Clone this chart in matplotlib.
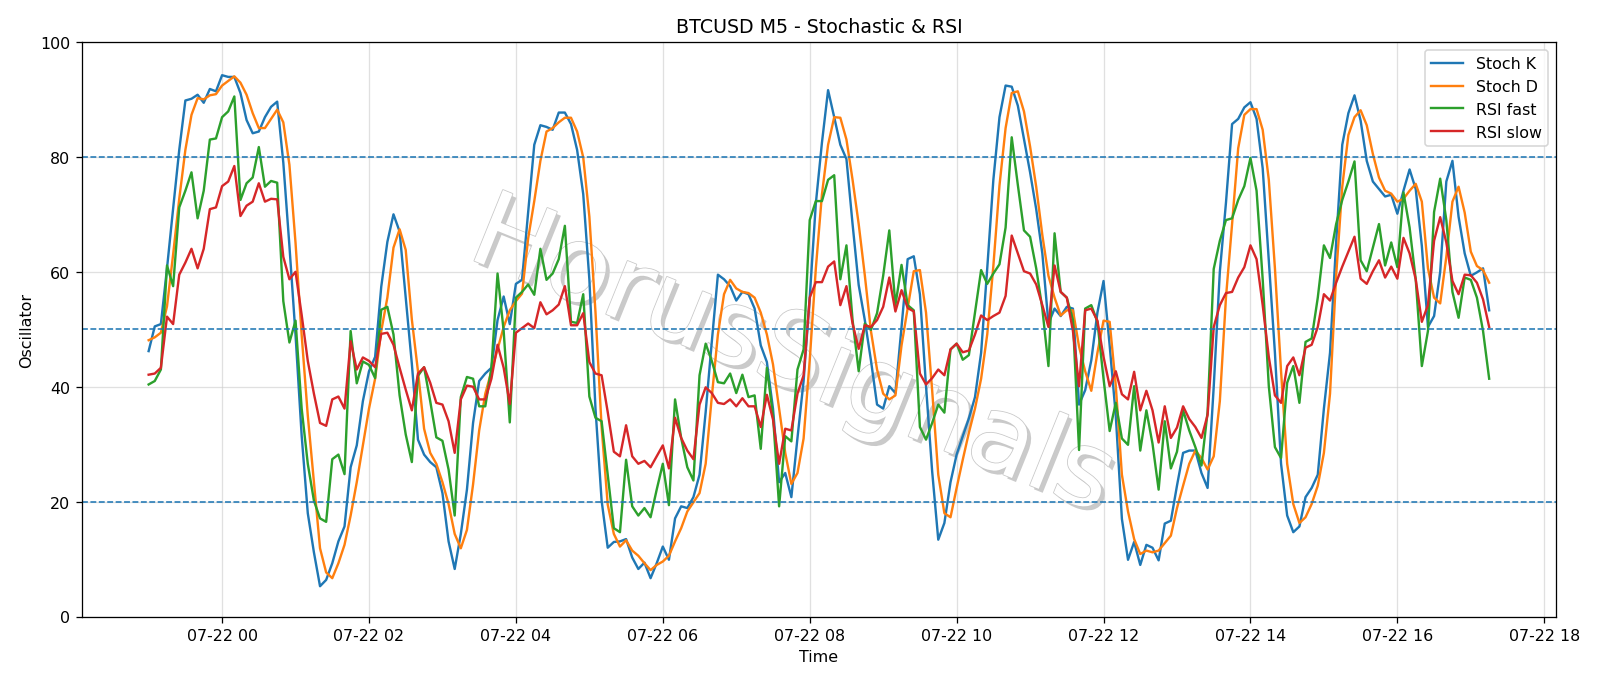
import numpy as np
import pandas as pd
import matplotlib
matplotlib.use("Agg")
import matplotlib.pyplot as plt
import matplotlib.dates as mdates
import matplotlib.patheffects as pe

# BTCUSD M5 bars, 07-21 23:00 -> 07-22 17:15
start_time = "2025-07-21 23:00"
n_bars = 220

stoch_k = [
    46.2, 50.5, 50.9, 60.6, 71.0, 81.2, 89.8, 90.1, 90.8, 89.4, 91.8, 91.4, 94.2, 93.9, 93.9, 91.1, 86.4, 84.1, 84.4, 86.9,
    88.7, 89.6, 79.0, 64.5, 49.0, 31.5, 18.0, 11.2, 5.3, 6.4, 9.3, 13.1, 15.7, 26.0, 29.8, 37.5, 42.7, 45.2, 57.4, 65.2,
    70.0, 67.0, 55.5, 44.0, 30.8, 28.2, 26.9, 26.0, 21.5, 13.1, 8.3, 14.4, 22.1, 33.7, 41.0, 42.3, 43.3, 51.6, 55.7, 50.9,
    57.9, 58.6, 70.3, 82.1, 85.5, 85.2, 84.7, 87.7, 87.7, 85.7, 81.2, 73.5, 58.7, 36.2, 20.2, 12.0, 13.0, 13.1, 13.5, 10.3,
    8.3, 9.4, 6.7, 9.3, 12.2, 9.9, 17.1, 19.2, 18.9, 20.8, 24.7, 35.6, 47.8, 59.5, 58.7, 57.5, 55.0, 56.5, 56.1, 53.6,
    47.2, 44.3, 36.2, 23.4, 25.0, 20.8, 31.1, 41.0, 55.5, 71.9, 82.5, 91.6, 86.9, 82.1, 79.6, 68.3, 57.7, 51.6, 44.6, 36.9,
    36.2, 40.1, 38.9, 50.4, 62.2, 62.7, 56.1, 40.1, 25.3, 13.4, 16.3, 23.4, 28.2, 31.4, 34.5, 38.2, 45.9, 60.6, 76.0, 86.9,
    92.4, 92.2, 88.9, 83.1, 77.3, 70.9, 63.2, 51.0, 53.6, 52.3, 53.9, 53.6, 36.9, 39.4, 44.6, 52.9, 58.4, 47.2, 35.0, 17.0,
    9.9, 13.0, 9.0, 12.5, 12.0, 9.8, 16.2, 16.7, 22.8, 28.5, 28.9, 28.9, 25.0, 22.4, 40.0, 60.0, 72.0, 85.7, 86.6, 88.6,
    89.5, 86.6, 78.0, 61.9, 45.9, 26.6, 17.6, 14.7, 15.7, 20.8, 22.4, 24.7, 36.2, 45.9, 65.1, 82.1, 87.6, 90.7, 86.3, 79.3,
    75.7, 74.4, 73.1, 73.4, 70.1, 74.1, 77.8, 74.4, 64.5, 50.4, 52.3, 60.0, 75.7, 79.3, 69.6, 63.2, 59.3, 59.9, 60.6, 53.3,
]

stoch_d = [
    48.1, 48.6, 49.4, 54.0, 63.0, 72.7, 81.2, 87.3, 90.2, 90.0, 90.7, 90.9, 92.4, 93.2, 94.0, 92.9, 90.8, 87.6, 85.0, 85.0,
    86.6, 88.2, 86.0, 78.6, 65.0, 49.0, 35.0, 23.4, 11.9, 7.7, 6.7, 9.3, 12.5, 17.6, 23.4, 29.8, 36.2, 41.4, 49.7, 55.5,
    64.2, 67.4, 63.8, 51.7, 42.7, 32.7, 28.5, 26.6, 23.4, 19.6, 14.4, 11.9, 15.1, 23.0, 32.4, 38.8, 42.7, 46.5, 50.4, 53.3,
    54.9, 56.2, 65.8, 72.3, 79.3, 84.4, 85.0, 86.0, 86.8, 86.8, 84.4, 79.9, 69.6, 53.0, 33.0, 19.5, 14.4, 12.2, 13.3, 11.5,
    10.6, 9.3, 8.1, 9.0, 9.6, 10.6, 13.1, 15.4, 18.3, 19.9, 21.5, 26.6, 38.2, 49.1, 56.1, 58.6, 57.1, 56.5, 56.3, 55.5,
    52.9, 49.1, 43.9, 36.2, 28.5, 23.1, 25.0, 31.0, 44.6, 60.6, 73.5, 82.1, 86.9, 86.8, 83.0, 76.0, 68.3, 59.4, 49.7, 43.0,
    38.8, 37.8, 38.5, 47.2, 53.6, 60.1, 60.3, 52.9, 39.4, 24.7, 18.0, 17.3, 22.4, 27.3, 32.0, 36.2, 41.4, 49.1, 61.0, 75.0,
    85.0, 91.1, 91.4, 87.9, 81.8, 74.8, 66.4, 59.3, 55.5, 52.4, 53.3, 53.3, 47.0, 42.7, 39.3, 45.9, 51.5, 51.3, 40.2, 24.7,
    18.3, 13.5, 10.9, 11.5, 11.2, 11.5, 12.8, 14.1, 18.9, 22.8, 26.6, 28.9, 27.6, 25.6, 27.9, 37.5, 55.5, 68.3, 81.5, 87.3,
    88.3, 88.3, 84.7, 76.0, 60.6, 42.7, 26.6, 19.6, 16.3, 17.3, 19.6, 22.8, 28.5, 38.8, 59.3, 74.8, 83.8, 86.9, 88.1, 85.5,
    80.5, 76.4, 74.1, 73.6, 72.2, 72.7, 74.1, 75.3, 72.2, 60.6, 55.5, 54.5, 62.6, 72.2, 74.8, 70.3, 63.5, 61.0, 60.3, 58.1,
]

rsi_fast = [
    40.4, 41.0, 43.0, 61.1, 57.5, 71.2, 74.1, 77.3, 69.3, 74.1, 83.0, 83.2, 86.9, 87.9, 90.5, 72.5, 75.4, 76.4, 81.7, 74.8,
    75.8, 75.5, 54.9, 47.7, 51.5, 36.2, 26.6, 20.2, 17.1, 16.5, 27.4, 28.2, 24.8, 49.7, 40.6, 44.4, 43.8, 41.5, 53.4, 53.9,
    49.1, 38.5, 31.7, 26.9, 41.9, 43.4, 37.5, 31.2, 30.6, 25.6, 17.6, 38.2, 41.7, 41.4, 36.6, 36.6, 43.3, 59.7, 49.7, 33.8,
    55.5, 56.5, 57.8, 56.0, 64.0, 58.6, 59.7, 62.2, 68.0, 51.3, 51.1, 56.1, 38.3, 34.6, 34.0, 24.7, 15.4, 14.7, 27.3, 19.2,
    17.6, 18.9, 17.3, 22.1, 26.6, 19.4, 37.8, 31.1, 26.0, 23.7, 42.0, 47.5, 44.5, 40.8, 40.6, 42.3, 38.9, 42.1, 38.2, 38.5,
    29.2, 43.3, 35.0, 19.2, 31.4, 30.5, 43.0, 46.5, 69.0, 72.3, 72.3, 76.0, 76.8, 58.7, 64.6, 51.6, 42.7, 51.0, 49.9, 52.8,
    59.3, 67.2, 54.2, 61.2, 54.2, 53.3, 33.0, 30.8, 33.7, 36.9, 35.5, 46.5, 47.5, 44.7, 45.5, 52.9, 60.3, 57.9, 59.7, 61.3,
    67.7, 83.4, 75.1, 67.2, 66.1, 60.6, 53.6, 43.6, 66.7, 56.5, 55.5, 51.6, 29.0, 53.6, 54.2, 51.3, 41.4, 32.3, 37.2, 31.0,
    29.9, 40.1, 28.9, 35.9, 30.1, 22.1, 34.0, 25.8, 28.7, 35.9, 32.4, 29.5, 26.3, 35.6, 60.5, 65.4, 69.0, 69.3, 72.5, 74.9,
    79.8, 74.1, 58.7, 40.1, 29.5, 27.6, 40.7, 43.6, 37.2, 47.8, 48.4, 55.5, 64.6, 62.4, 68.3, 72.5, 75.7, 79.2, 62.0, 60.1,
    64.2, 68.3, 61.1, 65.1, 60.8, 73.8, 67.7, 58.7, 43.6, 49.7, 70.4, 76.2, 69.0, 56.5, 52.0, 59.0, 58.6, 55.5, 49.7, 41.4,
]

rsi_slow = [
    42.1, 42.3, 43.3, 52.2, 50.9, 59.5, 61.6, 64.0, 60.6, 64.0, 70.9, 71.2, 74.9, 75.7, 78.4, 69.7, 71.5, 72.2, 75.4, 72.2,
    72.7, 72.6, 62.6, 58.7, 60.0, 52.5, 44.5, 38.8, 33.7, 33.2, 37.8, 38.3, 36.2, 47.9, 43.0, 45.1, 44.5, 43.4, 49.2, 49.4,
    47.3, 43.3, 39.5, 35.9, 42.3, 43.4, 40.7, 37.2, 36.9, 34.0, 28.5, 37.8, 40.2, 40.0, 37.8, 37.8, 41.4, 47.3, 43.3, 37.0,
    49.4, 50.2, 51.0, 50.2, 54.7, 52.6, 53.3, 54.3, 57.5, 50.7, 50.7, 52.8, 44.3, 42.3, 42.0, 35.6, 28.7, 27.9, 33.3, 27.9,
    26.6, 27.1, 26.0, 27.9, 29.8, 25.8, 34.6, 31.1, 28.9, 27.4, 36.9, 39.9, 38.9, 37.2, 37.0, 37.8, 36.6, 38.0, 36.6, 36.6,
    33.0, 38.6, 34.3, 26.6, 32.7, 32.4, 38.8, 42.0, 55.5, 58.2, 58.2, 60.9, 61.8, 54.2, 57.5, 51.0, 46.6, 50.7, 50.4, 51.6,
    53.9, 59.0, 53.1, 56.8, 53.7, 53.1, 42.3, 40.4, 41.5, 43.0, 42.0, 46.5, 47.5, 46.0, 46.3, 49.1, 52.4, 51.6, 52.3, 52.9,
    55.8, 66.3, 63.2, 60.1, 59.7, 57.8, 54.2, 50.4, 61.1, 56.5, 55.5, 49.7, 40.1, 53.3, 53.6, 51.5, 45.2, 40.1, 42.7, 38.7,
    37.8, 42.6, 35.9, 39.3, 35.9, 30.3, 36.6, 31.1, 32.9, 36.6, 34.4, 33.0, 31.1, 35.1, 50.4, 54.2, 56.3, 56.5, 59.0, 60.8,
    64.6, 62.2, 54.2, 45.2, 38.5, 37.2, 43.6, 45.1, 42.0, 46.8, 47.3, 50.4, 56.1, 55.0, 58.1, 60.9, 63.5, 66.1, 58.8, 57.9,
    60.1, 62.0, 59.0, 60.9, 58.8, 65.9, 63.2, 58.7, 51.3, 54.2, 65.4, 69.5, 65.1, 58.4, 56.1, 59.5, 59.4, 58.1, 55.2, 50.4,
]

levels = [80, 50, 20]

times = pd.date_range(start_time, periods=n_bars, freq="5min")

fig = plt.figure(figsize=(14, 6), dpi=114.3)
ax = fig.add_axes([0.051, 0.0996, 0.9215, 0.8382])

ax.plot(times, stoch_k, label="Stoch K", color="#1f77b4")
ax.plot(times, stoch_d, label="Stoch D", color="#ff7f0e")
ax.plot(times, rsi_fast, label="RSI fast", color="#2ca02c")
ax.plot(times, rsi_slow, label="RSI slow", color="#d62728")

for lv in levels:
    ax.axhline(lv, color="#1f77b4", linestyle="--", linewidth=1.0)

ax.set_ylim(0, 100)
ax.set_title("BTCUSD M5 - Stochastic & RSI")
ax.set_xlabel("Time")
ax.set_ylabel("Oscillator")
ax.grid(True, color="#cccccc", alpha=0.6, linewidth=0.8)
ax.xaxis.set_major_locator(mdates.HourLocator(byhour=range(0, 24, 2)))
ax.xaxis.set_major_formatter(mdates.DateFormatter("%m-%d %H"))
ax.legend(loc="upper right")

# watermark, kept under the lines
ax.text(0.482, 0.45, "HorusSignals", transform=ax.transAxes,
        fontsize=66, rotation=-22, ha="center", va="center",
        color="white", zorder=1.5,
        path_effects=[pe.SimplePatchShadow(offset=(2.5, -2.5), shadow_rgbFace="#8a8a8a", alpha=0.45),
                      pe.Stroke(linewidth=1.0, foreground="#c8c8c8"),
                      pe.Normal()])

fig.savefig("out.png", dpi=114.3)
